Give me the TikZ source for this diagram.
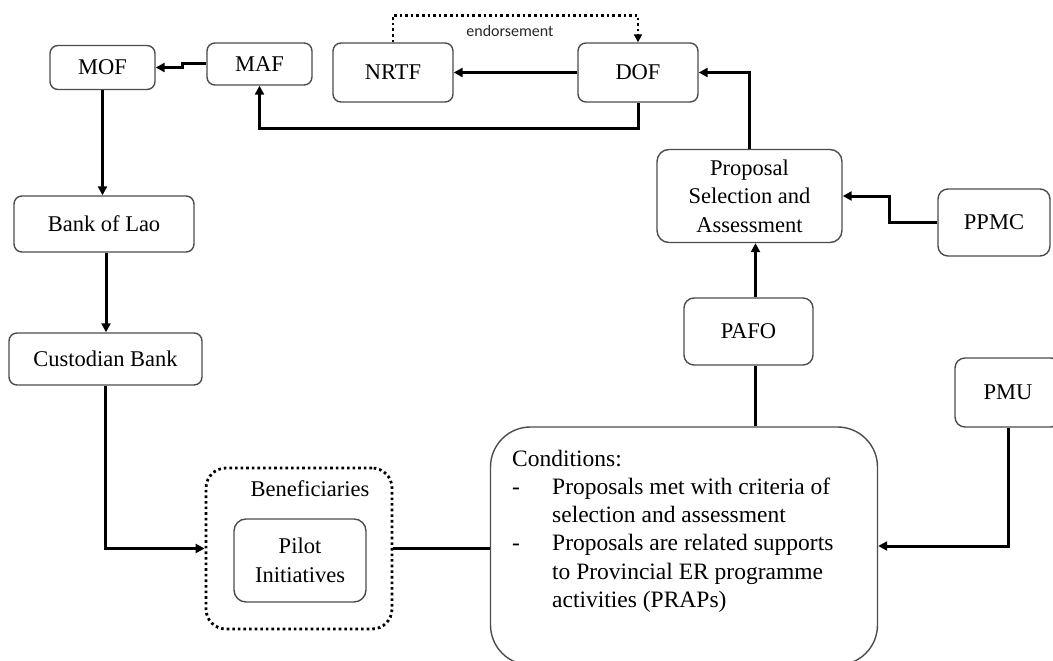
\documentclass[tikz,border=0pt]{standalone}
\usepackage{fontspec}
\setmainfont{Liberation Serif}
\newfontfamily\labelfont{Carlito}
\usetikzlibrary{arrows.meta}
\tikzset{
  box/.style={draw=black!70, line width=1.4pt, rounded corners=8pt, inner sep=0pt, align=center,
              font=\fontsize{22.5}{28.5}\selectfont},
  conn/.style={line width=3pt, draw=black},
  arr/.style={conn, -{Triangle[length=9pt,width=9pt]}},
  dotline/.style={line width=2.8pt, dash pattern=on 2.6pt off 3pt},
}
\begin{document}
\begin{tikzpicture}[x=1pt,y=-1pt]
\useasboundingbox (0,0) rectangle (1053,661);
\begin{scope}
\clip (0,0) rectangle (1053,661);
% nodes
\node[box, minimum width=105, minimum height=44] (MOF) at (102.5,67.5) {MOF};
\node[box, minimum width=105, minimum height=42] (MAF) at (259.5,64) {MAF};
\node[box, minimum width=120, minimum height=59] (NRTF) at (393,72.5) {NRTF};
\node[box, minimum width=120, minimum height=59] (DOF) at (638,72.5) {DOF};
\node[box, minimum width=180, minimum height=56] (BoL) at (104,224) {Bank of Lao};
\node[box, minimum width=193, minimum height=52] (Cust) at (105.5,359) {Custodian Bank};
\node[box, draw=black, dotline, rounded corners=20pt, minimum width=186, minimum height=161] (Ben) at (299,548.5) {};
\node[font=\fontsize{22.5}{28.5}\selectfont] (BenL) at (310,489) {Beneficiaries};
\node[box, rounded corners=12pt, minimum width=132, minimum height=83] (Pilot) at (300,560.5) {Pilot\\Initiatives};
\node[box, rounded corners=40pt, minimum width=387, minimum height=238] (Cond) at (684,546) {};
\node[anchor=north west, inner sep=0pt, font=\fontsize{23.5}{28.3}\selectfont] (CondT) at (512,446)
  {\begin{tabular}{@{}p{40pt}@{}l@{}}
   \multicolumn{2}{@{}l}{Conditions:}\\
   - & Proposals met with criteria of\\
     & selection and assessment\\
   - & Proposals are related supports\\
     & to Provincial ER programme\\
     & activities (PRAPs)
   \end{tabular}};
\node[box, rounded corners=12pt, minimum width=185, minimum height=93] (Prop) at (749.5,196) {Proposal\\Selection and\\Assessment};
\node[box, rounded corners=10pt, minimum width=112, minimum height=67] (PPMC) at (994,222.5) {PPMC};
\node[box, rounded corners=10pt, minimum width=129, minimum height=67] (PAFO) at (748.5,331.5) {PAFO};
\node[box, rounded corners=10pt, minimum width=106, minimum height=69] (PMU) at (1008,392.5) {PMU};
\node[font=\labelfont\fontsize{16}{18}\selectfont, text=black!85] (endl) at (510,31) {endorsement};
% connectors
\draw[arr] (MAF.west) -- ++(-24,0) |- (MOF.east);
\draw[arr] (MOF.south) -- (MOF.south |- BoL.north);
\draw[arr] ([xshift=2pt]BoL.south) -- ([xshift=2pt]BoL.south |- Cust.north);
\draw[arr] (Cust.south) |- (Ben.west);
\draw[conn] (Ben.east) -- (Ben.east -| Cond.west);
\draw[arr] (PMU.south) |- (Cond.east);
\draw[conn] ([xshift=6.5pt]PAFO.south) -- ([xshift=6.5pt]PAFO.south |- Cond.north);
\draw[arr] ([xshift=7pt]PAFO.north) -- ([xshift=7pt]PAFO.north |- Prop.south);
\draw[arr] (PPMC.west) -- ++(-48,0) |- (Prop.east);
\draw[arr] (Prop.north) |- (DOF.east);
\draw[arr] (DOF.south) -- ++(0,26) -| (MAF.south);
\draw[arr] (DOF.west) -- (NRTF.east);
\draw[dotline, -{Triangle[length=8pt,width=8pt]}] (NRTF.north) -- ++(0,-27) -| (DOF.north);
\end{scope}
\end{tikzpicture}
\end{document}
